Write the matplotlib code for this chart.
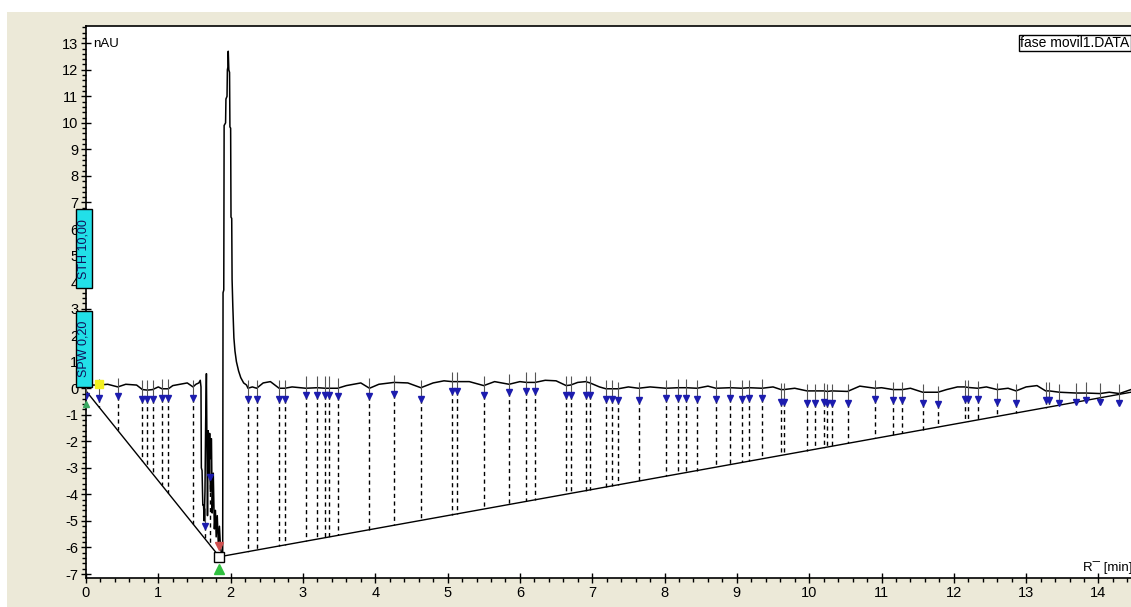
import matplotlib
matplotlib.use("Agg")
import numpy as np
import matplotlib.pyplot as plt
from matplotlib.patches import Rectangle
from matplotlib.ticker import MultipleLocator

plt.rcParams['font.family'] = ['Liberation Sans', 'DejaVu Sans']
plt.rcParams['axes.unicode_minus'] = False

# chromatogram trace (min, nAU)
sig_x = [0.0, 0.05, 0.18, 0.3, 0.44, 0.55, 0.7, 0.78, 0.85, 0.92, 1.0, 1.05, 1.14, 1.2, 1.3, 1.4,
         1.48, 1.52, 1.56, 1.58, 1.59, 1.595, 1.605, 1.615, 1.625, 1.635, 1.645, 1.655, 1.665, 1.672,
         1.68, 1.69, 1.70, 1.71, 1.72, 1.735, 1.745, 1.76, 1.775, 1.79, 1.80, 1.815, 1.83, 1.845,
         1.86, 1.875, 1.89, 1.895, 1.905, 1.91, 1.93, 1.935, 1.95, 1.955, 1.962, 1.967, 1.975, 1.985,
         1.99, 2.0, 2.005, 2.015, 2.02, 2.03, 2.045, 2.06, 2.08, 2.11, 2.14, 2.18, 2.22, 2.24, 2.3,
         2.36, 2.45, 2.55, 2.67, 2.75, 2.85, 3.04, 3.2, 3.31, 3.36, 3.48, 3.6, 3.8, 3.92, 4.05, 4.26,
         4.45, 4.63, 4.8, 4.95, 5.06, 5.13, 5.3, 5.5, 5.65, 5.85, 6.0, 6.09, 6.21, 6.35, 6.5, 6.64,
         6.70, 6.8, 6.91, 6.97, 7.1, 7.19, 7.27, 7.36, 7.5, 7.64, 7.8, 8.02, 8.19, 8.3, 8.45, 8.6,
         8.71, 8.91, 9.07, 9.17, 9.35, 9.5, 9.61, 9.65, 9.8, 9.97, 10.08, 10.21, 10.25, 10.31, 10.53,
         10.7, 10.91, 11.0, 11.16, 11.29, 11.4, 11.57, 11.78, 11.9, 12.05, 12.15, 12.2, 12.33, 12.45,
         12.6, 12.75, 12.86, 13.0, 13.15, 13.27, 13.32, 13.46, 13.69, 13.83, 14.02, 14.15, 14.29, 14.45]
sig_y = [0.1, 0.12, 0.12, 0.15, 0.05, 0.15, 0.12, -0.05, -0.07, -0.05, 0.05, -0.02, -0.02, 0.1, 0.15, 0.2,
         0.05, 0.15, 0.2, 0.3, 0.05, -3.0, -3.1, -4.4, -4.4, -5.0, -3.9, -1.2, 0.55, -2.2,
         -4.8, -1.6, -3.2, -1.7, -3.9, -1.9, -4.7, -3.2, -5.3, -4.6, -5.6, -4.8, -5.9, -5.2,
         -6.0, -6.25, -6.2, 3.6, 3.7, 9.9, 10.0, 10.9, 11.0, 12.0, 12.1, 12.7, 12.0, 11.9,
         9.85, 9.8, 6.45, 6.4, 4.1, 3.1, 1.9, 1.4, 1.0, 0.65, 0.4, 0.2, 0.12, 0.0, 0.05,
         0.0, 0.2, 0.25, 0.0, 0.0, 0.05, 0.0, 0.02, 0.0, 0.0, 0.0, 0.1, 0.2, 0.0, 0.15, 0.22,
         0.2, 0.02, 0.2, 0.28, 0.25, 0.25, 0.25, 0.1, 0.25, 0.15, 0.25, 0.22, 0.22, 0.3, 0.28, 0.1,
         0.12, 0.22, 0.25, 0.2, 0.05, -0.02, -0.02, -0.02, 0.05, 0.0, 0.05, 0.0, 0.02, 0.02, 0.0, 0.08,
         0.0, 0.02, 0.0, 0.02, 0.0, 0.05, -0.05, -0.05, 0.0, -0.1, -0.1, -0.1, -0.12, -0.1, -0.12,
         0.08, 0.0, 0.02, -0.05, -0.05, 0.0, -0.15, -0.15, -0.05, 0.05, 0.05, 0.03, 0.0, 0.05,
         -0.05, 0.0, -0.1, 0.05, 0.1, -0.1, -0.1, -0.15, -0.18, -0.18, -0.2, -0.15, -0.2, -0.05]

# integration baseline
base_x = [0.0, 1.845, 14.45]
base_y = [-0.1, -6.35, -0.15]

# detected peaks
pk_x = [0.0, 0.18, 0.44, 0.78, 0.85, 0.92, 1.05, 1.14, 1.48, 1.65, 1.72, 2.24, 2.36, 2.67, 2.75,
        3.04, 3.20, 3.31, 3.36, 3.48, 3.92, 4.26, 4.63, 5.06, 5.13, 5.50, 5.85, 6.09, 6.21, 6.64,
        6.70, 6.91, 6.97, 7.19, 7.27, 7.36, 7.64, 8.02, 8.19, 8.30, 8.45, 8.71, 8.91, 9.07, 9.17,
        9.35, 9.61, 9.65, 9.97, 10.08, 10.21, 10.25, 10.31, 10.53, 10.91, 11.16, 11.29, 11.57,
        11.78, 12.15, 12.20, 12.33, 12.60, 12.86, 13.27, 13.32, 13.46, 13.69, 13.83, 14.02, 14.29]
pk_y = [-0.3, -0.35, -0.3, -0.4, -0.4, -0.4, -0.35, -0.35, -0.38, -5.2, -3.35, -0.4, -0.4, -0.4, -0.4,
        -0.25, -0.25, -0.25, -0.25, -0.3, -0.3, -0.2, -0.4, -0.1, -0.1, -0.25, -0.15, -0.1, -0.1, -0.25,
        -0.25, -0.25, -0.25, -0.4, -0.4, -0.45, -0.45, -0.38, -0.35, -0.35, -0.4, -0.4, -0.38, -0.4, -0.38,
        -0.35, -0.5, -0.5, -0.55, -0.55, -0.5, -0.55, -0.55, -0.55, -0.4, -0.45, -0.45, -0.55,
        -0.6, -0.4, -0.4, -0.42, -0.5, -0.55, -0.45, -0.45, -0.55, -0.5, -0.45, -0.5, -0.55]

ytick_vals = list(range(-7, 14))
xtick_vals = list(range(0, 15))

fig = plt.figure(figsize=(11.31, 6.07), dpi=100, facecolor='white')
fig.add_artist(Rectangle((7 / 1131, 0), 1, 595 / 607, transform=fig.transFigure,
                         facecolor='#ECE9D8', edgecolor='none', zorder=-10))
ax = fig.add_axes([86 / 1131, 29 / 607, 1 - 86 / 1131, 552 / 607])
ax.set_facecolor('white')

# dashed drop lines from each peak to the baseline
for x, y in zip(pk_x, pk_y):
    yb = float(np.interp(x, base_x, base_y))
    if yb < y:
        ax.plot([x, x], [y, yb], color='black', lw=1, ls=(0, (3, 2.5)), zorder=1)

ax.plot(base_x, base_y, color='black', lw=1, zorder=2)
ax.plot(sig_x, sig_y, color='black', lw=1.1, zorder=3)

# peak stems and arrows
ax.vlines(pk_x, pk_y, [y + 0.7 for y in pk_y], color='#555555', lw=0.8, zorder=4)
ax.plot(pk_x, pk_y, ls='none', marker='v', ms=4.5, color='#1c1cae', zorder=5)

# special markers
ax.plot([0.18], [0.15], ls='none', marker='s', ms=6, color='#f2f020', zorder=6)
ax.plot([0.0], [-0.6], ls='none', marker='^', ms=5, color='#3aa860', zorder=6, clip_on=False)
ax.plot([1.845], [-5.95], ls='none', marker='v', ms=6, color='#d05050', zorder=6)
ax.plot([1.845], [-6.8], ls='none', marker='^', ms=7, color='#30c040', zorder=6)
ax.plot([1.845], [-6.35], ls='none', marker='s', ms=7, mfc='white', mec='black', mew=1, zorder=7)

ax.set_xlim(0, 14.45)
ax.set_ylim(-7.15, 13.65)
ax.set_xticks(xtick_vals)
ax.set_yticks(ytick_vals)
ax.xaxis.set_minor_locator(MultipleLocator(0.2))
ax.yaxis.set_minor_locator(MultipleLocator(0.2))
ax.tick_params(which='major', direction='inout', length=7, width=1, labelsize=10.5, pad=2)
ax.tick_params(which='minor', direction='out', length=3, width=1)
ax.spines['right'].set_visible(False)
for s in ['left', 'bottom', 'top']:
    ax.spines[s].set_linewidth(1.2)

# threshold boxes on the y axis
for (y0, y1, label) in [(3.77, 6.75, 'STH 10,00'), (0.04, 2.9, 'SPW 0,20')]:
    ax.add_patch(Rectangle((-0.14, y0), 0.22, y1 - y0, facecolor='#22e0e8', edgecolor='black',
                           lw=1, zorder=8, clip_on=False))
    ax.text(-0.03, (y0 + y1) / 2, label, rotation=90, ha='center', va='center', fontsize=9,
            color='#10105a', zorder=9, clip_on=False)

fig.text(93 / 1131, 1 - 44 / 607, 'nAU', ha='left', va='center', fontsize=9.5)
fig.text(1083 / 1131, 1 - 568 / 607, 'R\u00af [min]', ha='left', va='center', fontsize=9.5)
fig.text(1020 / 1131, 1 - 43 / 607, 'fase movil1.DATA', ha='left', va='center', fontsize=10,
         bbox=dict(boxstyle='square,pad=0.1', facecolor='white', edgecolor='black', lw=1))

fig.savefig('out.png', dpi=100, facecolor=fig.get_facecolor())
